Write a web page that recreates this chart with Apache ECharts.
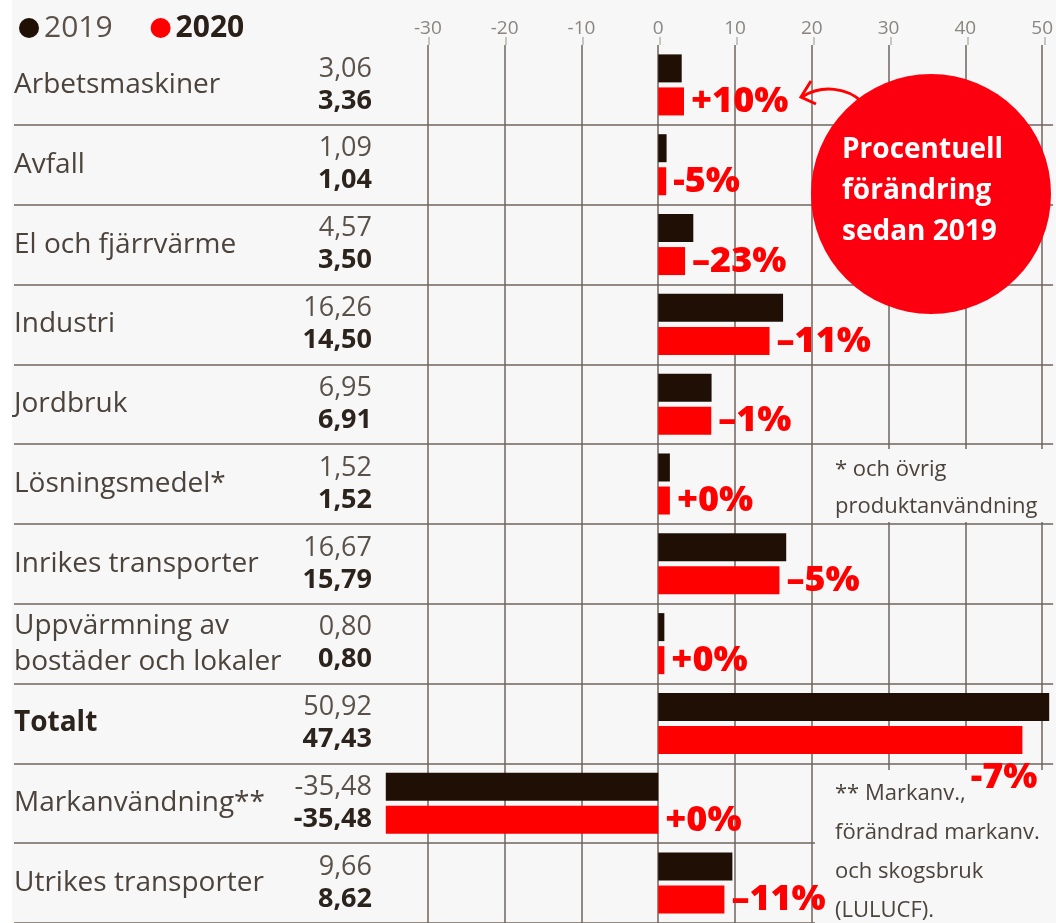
<!DOCTYPE html>
<html>
<head>
<meta charset="utf-8">
<title>Utsläpp 2019 och 2020</title>
<script src="https://cdn.jsdelivr.net/npm/echarts@6/dist/echarts.min.js"></script>
<style>
  html, body { margin: 0; padding: 0; background: #ffffff; }
  #chart { width: 1056px; height: 923px; }
</style>
</head>
<body>
<div id="chart"></div>
<script>
// data (miljoner ton)
var categories = ['Arbetsmaskiner', 'Avfall', 'El och fjärrvärme', 'Industri', 'Jordbruk',
  'Lösningsmedel*', 'Inrikes transporter', 'Uppvärmning av\nbostäder och lokaler',
  'Totalt', 'Markanvändning**', 'Utrikes transporter'];
var v2019 = [3.06, 1.09, 4.57, 16.26, 6.95, 1.52, 16.67, 0.80, 50.92, -35.48, 9.66];
var v2020 = [3.36, 1.04, 3.50, 14.50, 6.91, 1.52, 15.79, 0.80, 47.43, -35.48, 8.62];
var pctChange = ['+10%', '-5%', '–23%', '–11%', '–1%', '+0%', '–5%', '+0%', '-7%', '+0%', '–11%'];
var xTicks = [-30, -20, -10, 0, 10, 20, 30, 40, 50];

var FONT = '"Open Sans", "Noto Sans", sans-serif';
var BG = '#f7f7f7';
var LINE = '#6f665e';
var BLACK = '#1f0f04';
var RED = '#ff0000';

function fmt(v) {
  return v.toFixed(2).replace('.', ',');
}

// value range chosen so that 0 sits at x=660 and one unit is ~7.7px
var xMin = -83.9;
var xMax = 51.43;

var sepColors = ['rgba(0,0,0,0)'];
for (var k = 0; k < categories.length; k++) sepColors.push(LINE);

var chart = echarts.init(document.getElementById('chart'));

var option = {
  backgroundColor: BG,
  animation: false,
  textStyle: { fontFamily: FONT },
  legend: {
    data: ['2019', '2020'],
    left: 14,
    top: 8,
    icon: 'circle',
    itemWidth: 20,
    itemHeight: 20,
    itemGap: 38,
    selectedMode: false,
    formatter: function (name) {
      return name === '2020' ? '{b|' + name + '}' : '{r|' + name + '}';
    },
    textStyle: {
      rich: {
        r: { fontSize: 30, color: '#5b5148', fontFamily: FONT },
        b: { fontSize: 30, fontWeight: 'bold', color: '#2a2018', fontFamily: FONT }
      }
    }
  },
  grid: [
    { left: 14, right: 0, top: 45, height: 880 },
    { left: 14, right: 0, top: 37, height: 8 }
  ],
  xAxis: [
    {
      type: 'value', gridIndex: 0, position: 'top', min: xMin, max: xMax,
      axisLine: { show: false },
      axisTick: { show: false, customValues: xTicks },
      axisLabel: { customValues: xTicks, fontSize: 19, color: '#8a8580', margin: 7 },
      splitLine: { show: true, lineStyle: { color: LINE, width: 1.5 } }
    },
    {
      type: 'value', gridIndex: 1, min: xMin, max: xMax,
      axisLine: { show: false },
      axisTick: { show: false, customValues: xTicks },
      axisLabel: { show: false, customValues: xTicks },
      splitLine: { show: true, lineStyle: { color: '#b9b4ae', width: 1.5 } }
    }
  ],
  yAxis: [
    {
      type: 'category', gridIndex: 0, data: categories, inverse: true,
      axisLine: { show: false },
      axisTick: { show: false },
      axisLabel: {
        inside: true, margin: 0, align: 'left',
        fontSize: 28, lineHeight: 36, color: '#4b433c',
        formatter: function (name) {
          return name === 'Totalt' ? '{t|' + name + '}' : name;
        },
        rich: { t: { fontSize: 28, fontWeight: 'bold', color: '#2b231c', fontFamily: FONT } }
      },
      splitLine: { show: true, lineStyle: { color: sepColors, width: 1.5 } }
    },
    {
      type: 'category', gridIndex: 0, data: categories, inverse: true, position: 'left',
      axisLine: { show: false },
      axisTick: { show: false },
      axisLabel: {
        inside: true, margin: 358, align: 'right',
        formatter: function (name, i) {
          return '{a|' + fmt(v2019[i]) + '}\n{b|' + fmt(v2020[i]) + '}';
        },
        rich: {
          a: { fontSize: 27, lineHeight: 32, color: '#5a524a', fontFamily: FONT, align: 'right' },
          b: { fontSize: 27, lineHeight: 32, fontWeight: 'bold', color: '#2b231c', fontFamily: FONT, align: 'right' }
        }
      },
      splitLine: { show: false }
    },
    {
      type: 'category', gridIndex: 1, data: ['x'],
      axisLine: { show: false }, axisTick: { show: false }, axisLabel: { show: false },
      splitLine: { show: false }
    }
  ],
  series: [
    {
      name: '2019', type: 'bar', xAxisIndex: 0, yAxisIndex: 0,
      data: v2019, barWidth: 28, barGap: '18%',
      itemStyle: { color: BLACK }
    },
    {
      name: '2020', type: 'bar', xAxisIndex: 0, yAxisIndex: 0,
      data: v2020, barWidth: 28, barGap: '18%',
      itemStyle: { color: RED }
    },
    {
      // percentage change, written next to the 2020 bar
      name: 'förändring', type: 'custom', xAxisIndex: 0, yAxisIndex: 0, z: 10,
      data: v2020.map(function (v, i) { return [v, i]; }),
      encode: { x: 0, y: 1 },
      renderItem: function (params, api) {
        var i = api.value(1);
        var end = api.coord([Math.max(api.value(0), 0), i]);
        var right = params.coordSys.x + params.coordSys.width;
        var x = end[0] + 7;
        var y = end[1] + 17;
        var align = 'left';
        if (x + 95 > right) {
          // no room to the right: tuck it under the bar end
          x = end[0] + 15;
          y = end[1] + 54;
          align = 'right';
        }
        return {
          type: 'text', x: x, y: y,
          style: {
            text: pctChange[i], fill: RED,
            font: '800 36px ' + FONT,
            align: align, verticalAlign: 'middle'
          }
        };
      }
    }
  ],
  graphic: [
    { type: 'rect', z: 100, shape: { x: 0, y: 0, width: 12, height: 923 }, style: { fill: '#ffffff' } },
    // footnote boxes hide the grid behind the text
    { type: 'rect', z: 5, shape: { x: 828, y: 449, width: 228, height: 73 }, style: { fill: BG } },
    { type: 'rect', z: 5, shape: { x: 815, y: 770, width: 241, height: 153 }, style: { fill: BG } },
    {
      type: 'text', z: 6, x: 835, y: 488,
      style: {
        text: '* och övrig\nproduktanvändning', font: '22px ' + FONT, fill: '#4b433c',
        lineHeight: 37, verticalAlign: 'middle'
      }
    },
    {
      type: 'text', z: 6, x: 835, y: 852,
      style: {
        text: '** Markanv.,\nförändrad markanv.\noch skogsbruk\n(LULUCF).', font: '22px ' + FONT, fill: '#4b433c',
        lineHeight: 39, verticalAlign: 'middle'
      }
    },
    // red bubble with explanation
    { type: 'circle', z: 5, shape: { cx: 931, cy: 194, r: 120 }, style: { fill: '#fd0010' } },
    {
      type: 'text', z: 6, x: 842, y: 191,
      style: {
        text: 'Procentuell\nförändring\nsedan 2019', font: 'bold 28px ' + FONT, fill: '#ffffff',
        lineHeight: 41, verticalAlign: 'middle'
      }
    },
    {
      type: 'bezierCurve', z: 6,
      shape: { x1: 862, y1: 102, cpx1: 848, cpy1: 88, cpx2: 822, cpy2: 84, x2: 802, y2: 97 },
      style: { stroke: RED, lineWidth: 3, fill: null }
    },
    {
      type: 'polyline', z: 6,
      shape: { points: [[811, 81], [801, 97], [816, 104]] },
      style: { stroke: RED, lineWidth: 3, fill: null }
    }
  ]
};

chart.setOption(option);
window.addEventListener('resize', function () {
  chart.resize();
});
</script>
</body>
</html>
